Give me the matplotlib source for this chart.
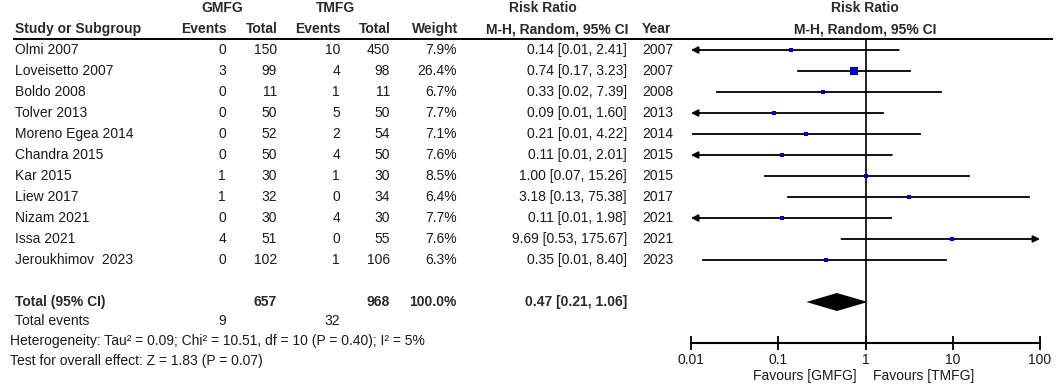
import numpy as np
import matplotlib
matplotlib.use("Agg")
import matplotlib.pyplot as plt

plt.rcParams['font.family'] = ['Liberation Sans', 'DejaVu Sans']

# data
studies = ["Olmi 2007", "Loveisetto 2007", "Boldo 2008", "Tolver 2013", "Moreno Egea 2014",
           "Chandra 2015", "Kar 2015", "Liew 2017", "Nizam 2021", "Issa 2021", "Jeroukhimov  2023"]
gm_events = [0, 3, 0, 0, 0, 0, 1, 1, 0, 4, 0]
gm_total = [150, 99, 11, 50, 52, 50, 30, 32, 30, 51, 102]
tm_events = [10, 4, 1, 5, 2, 4, 1, 0, 4, 0, 1]
tm_total = [450, 98, 11, 50, 54, 50, 30, 34, 30, 55, 106]
weights = [7.9, 26.4, 6.7, 7.7, 7.1, 7.6, 8.5, 6.4, 7.7, 7.6, 6.3]
rr = [0.14, 0.74, 0.33, 0.09, 0.21, 0.11, 1.00, 3.18, 0.11, 9.69, 0.35]
# lower limits below 0.01 are estimated (shown as 0.01, drawn as arrows)
rr_lo = [0.008, 0.17, 0.02, 0.006, 0.0105, 0.006, 0.07, 0.13, 0.006, 0.53, 0.0138]
rr_hi = [2.41, 3.23, 7.39, 1.60, 4.22, 2.01, 15.26, 75.38, 1.98, 175.67, 8.40]
years = [2007, 2007, 2008, 2013, 2014, 2015, 2015, 2017, 2021, 2021, 2023]

pooled = (0.47, 0.21, 1.06)
tot_gm, tot_tm = 657, 968
tot_weight = 100.0
ev_gm, ev_tm = 9, 32
het_text = "Heterogeneity: Tau\u00b2 = 0.09; Chi\u00b2 = 10.51, df = 10 (P = 0.40); I\u00b2 = 5%"
z_text = "Test for overall effect: Z = 1.83 (P = 0.07)"
ticks = [0.01, 0.1, 1, 10, 100]
tick_labels = ["0.01", "0.1", "1", "10", "100"]

W, H = 1056, 386
fig = plt.figure(figsize=(W / 100, H / 100), dpi=100)
fig.patch.set_facecolor("white")

# table area in pixel coordinates
tab = fig.add_axes([0, 0, 1, 1])
tab.set_xlim(0, W)
tab.set_ylim(H, 0)
tab.axis("off")

tc = "#1a1a1a"
fs = 10
row0, step = 50, 21

def ry(i):
    return row0 + step * i

# headers
bold = dict(fontsize=fs, fontweight="bold", color="#2a2a2a", va="center")
tab.text(222, 8, "GMFG", ha="center", **bold)
tab.text(336, 8, "TMFG", ha="center", **bold)
tab.text(543, 8, "Risk Ratio", ha="center", **bold)
tab.text(865, 8, "Risk Ratio", ha="center", **bold)
tab.text(15, 29, "Study or Subgroup", ha="left", **bold)
tab.text(227, 29, "Events", ha="right", **bold)
tab.text(278, 29, "Total", ha="right", **bold)
tab.text(341, 29, "Events", ha="right", **bold)
tab.text(391, 29, "Total", ha="right", **bold)
tab.text(458, 29, "Weight", ha="right", **bold)
tab.text(628, 29, "M-H, Random, 95% CI", ha="right", **bold)
tab.text(642, 29, "Year", ha="left", **bold)
tab.text(865, 29, "M-H, Random, 95% CI", ha="center", **bold)
tab.plot([13, 1053], [39, 39], color="black", lw=1.4, solid_capstyle="butt")

norm = dict(fontsize=fs, color=tc, va="center")
for i, name in enumerate(studies):
    y = ry(i)
    tab.text(15, y, name, ha="left", **norm)
    tab.text(226, y, str(gm_events[i]), ha="right", **norm)
    tab.text(277, y, str(gm_total[i]), ha="right", **norm)
    tab.text(340, y, str(tm_events[i]), ha="right", **norm)
    tab.text(390, y, str(tm_total[i]), ha="right", **norm)
    tab.text(457, y, f"{weights[i]:.1f}%", ha="right", **norm)
    tab.text(627, y, f"{rr[i]:.2f} [{rr_lo[i]:.2f}, {rr_hi[i]:.2f}]", ha="right", **norm)
    tab.text(642, y, str(years[i]), ha="left", **norm)

yt = ry(12)
tab.text(15, yt, "Total (95% CI)", ha="left", **bold)
tab.text(277, yt, str(tot_gm), ha="right", **bold)
tab.text(390, yt, str(tot_tm), ha="right", **bold)
tab.text(457, yt, f"{tot_weight:.1f}%", ha="right", **bold)
tab.text(627, yt, f"{pooled[0]:.2f} [{pooled[1]:.2f}, {pooled[2]:.2f}]", ha="right", **bold)
tab.text(15, 321, "Total events", ha="left", **norm)
tab.text(226, 321, str(ev_gm), ha="right", **norm)
tab.text(340, 321, str(ev_tm), ha="right", **norm)
tab.text(10, 341, het_text, ha="left", **norm)
tab.text(10, 361, z_text, ha="left", **norm)
tab.text(857, 376, "Favours [GMFG]", ha="right", **norm)
tab.text(873, 376, "Favours [TMFG]", ha="left", **norm)

# forest panel
x0, x1 = 691, 1040
ytop, ybot = 39, 343
ax = fig.add_axes([x0 / W, 1 - ybot / H, (x1 - x0) / W, (ybot - ytop) / H])
ax.set_xscale("log")
ax.set_xlim(0.01, 100)
ax.set_ylim((ybot - row0) / step, (ytop - row0) / step)
ax.patch.set_alpha(0)
for s in ["top", "left", "right"]:
    ax.spines[s].set_visible(False)
ax.spines["bottom"].set_linewidth(1.5)
ax.set_yticks([])
ax.set_xticks(ticks)
ax.set_xticklabels(tick_labels)
ax.xaxis.set_minor_locator(matplotlib.ticker.NullLocator())
ax.tick_params(axis="x", direction="inout", length=10, width=1.3, labelsize=fs,
               labelcolor=tc, pad=2)
ax.axvline(1, color="black", lw=1.2)

xmin, xmax = 0.01, 100
arrow = dict(arrowstyle="-|>", mutation_scale=10, color="black", lw=1.3, shrinkA=0, shrinkB=0)
for i in range(len(studies)):
    lo, hi = rr_lo[i], rr_hi[i]
    lo_c, hi_c = max(lo, xmin), min(hi, xmax)
    if lo < xmin:
        ax.annotate("", xy=(xmin, i), xytext=(hi_c, i), arrowprops=arrow)
    elif hi > xmax:
        ax.annotate("", xy=(xmax, i), xytext=(lo_c, i), arrowprops=arrow)
    else:
        ax.plot([lo_c, hi_c], [i, i], color="black", lw=1.3)
    ax.plot(rr[i], i, marker="s", color="#0000c0", markersize=1.2 * np.sqrt(weights[i]),
            markeredgewidth=0, zorder=3)

h = 9 / step
p, plo, phi = pooled
ax.fill([plo, p, phi, p], [12, 12 - h, 12, 12 + h], color="black", lw=0)

fig.savefig("out.png", dpi=100, facecolor="white")
